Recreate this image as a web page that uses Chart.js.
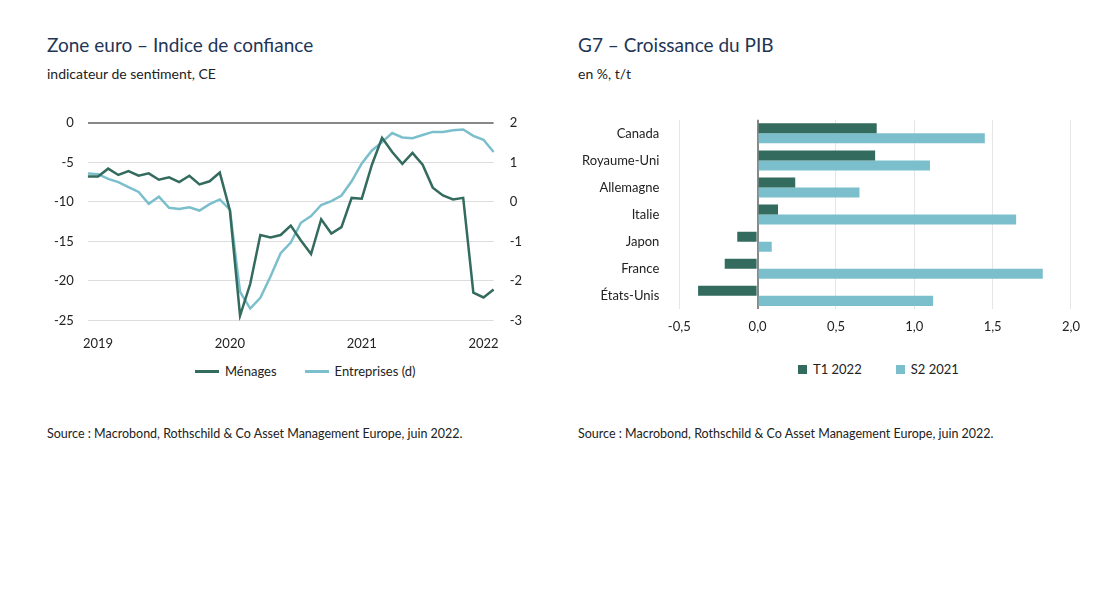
<!DOCTYPE html>
<html><head><meta charset="utf-8">
<script src="https://cdn.jsdelivr.net/npm/chart.js@4"></script>
<style>
body{margin:0;width:1100px;height:600px;background:#fff;font-family:Lato,"Noto Sans",sans-serif;position:relative;overflow:hidden}
.t{position:absolute;color:#1f3556;font-size:19px}
.s{position:absolute;color:#222;font-size:14px}
.src{position:absolute;color:#222;font-size:12.5px}
.lg{position:absolute;font-size:13px;color:#222;display:flex;gap:6px;align-items:center}
.sw{display:inline-block}
canvas{position:absolute}
</style></head><body>
<div class="t" style="left:47px;top:33px">Zone euro – Indice de confiance</div>
<div class="s" style="left:47px;top:65px">indicateur de sentiment, CE</div>
<div class="t" style="left:578px;top:33px">G7 – Croissance du PIB</div>
<div class="s" style="left:578px;top:65px">en %, t/t</div>
<div class="lg" style="left:195px;top:363px"><span class="sw" style="width:24px;height:3px;background:#336b5e"></span>Ménages<span style="width:16px"></span><span class="sw" style="width:24px;height:3px;background:#7bbfcc"></span>Entreprises (d)</div>
<div class="lg" style="left:798px;top:361px"><span class="sw" style="width:9px;height:9px;background:#336b5e"></span>T1 2022<span style="width:22px"></span><span class="sw" style="width:9px;height:9px;background:#7bbfcc"></span>S2 2021</div>
<div class="src" style="left:47px;top:426px">Source : Macrobond, Rothschild &amp; Co Asset Management Europe, juin 2022.</div>
<div class="src" style="left:578px;top:426px">Source : Macrobond, Rothschild &amp; Co Asset Management Europe, juin 2022.</div>
<canvas id="c1" style="left:40px;top:101px;width:490px;height:259px"></canvas>
<canvas id="c2" style="left:570px;top:100px;width:520px;height:245px"></canvas>
<script>
const menages=[-6.8,-6.8,-5.8,-6.6,-6.1,-6.7,-6.4,-7.2,-6.9,-7.5,-6.7,-7.8,-7.4,-6.3,-11.1,-24.4,-20.4,-14.2,-14.5,-14.2,-13.0,-14.9,-16.6,-12.2,-14.0,-13.2,-9.5,-9.6,-5.3,-1.9,-3.7,-5.2,-3.8,-5.3,-8.2,-9.2,-9.7,-9.5,-21.5,-22.1,-21.1];
const entreprises=[0.72,0.70,0.58,0.50,0.37,0.25,-0.05,0.13,-0.15,-0.18,-0.14,-0.22,-0.06,0.06,-0.20,-2.28,-2.70,-2.43,-1.89,-1.30,-1.03,-0.53,-0.36,-0.08,0.02,0.16,0.52,0.97,1.30,1.51,1.74,1.63,1.61,1.69,1.77,1.77,1.81,1.83,1.67,1.57,1.26];
const yearLabels={1:'2019',14:'2020',27:'2021',39:'2022'};
const months=menages.map((_,i)=>i);
const pays=['Canada','Royaume-Uni','Allemagne','Italie','Japon','France','États-Unis'];
const t1_2022=[0.76,0.75,0.24,0.13,-0.13,-0.21,-0.38];
const s2_2021=[1.45,1.10,0.65,1.65,0.09,1.82,1.12];
const DARK='#336b5e',LIGHT='#7bbfcc';
Chart.defaults.font.family='Lato, "Noto Sans", sans-serif';
Chart.defaults.font.size=13;
Chart.defaults.color='#222';
new Chart(document.getElementById('c1'),{type:'line',
data:{labels:months,datasets:[
{data:menages,borderColor:DARK,borderWidth:2.5,pointRadius:0,yAxisID:'y',tension:0},
{data:entreprises,borderColor:LIGHT,borderWidth:2.5,pointRadius:0,yAxisID:'y1',tension:0}]},
options:{responsive:false,animation:false,plugins:{legend:{display:false},tooltip:{enabled:false}},
layout:{padding:{left:0,right:0,top:4}},
scales:{
x:{grid:{display:false},border:{display:false},ticks:{autoSkip:false,maxRotation:0,padding:8,callback:(v)=>yearLabels[v]||''}},
y:{min:-25,max:0,ticks:{stepSize:5,padding:14},border:{display:false},grid:{color:c=>c.tick.value===0?'#888':'#ddd',lineWidth:c=>c.tick.value===0?2:1,drawTicks:false}},
y1:{position:'right',min:-3,max:2,ticks:{stepSize:1,padding:8},border:{display:false},grid:{display:false}}}}});
new Chart(document.getElementById('c2'),{type:'bar',
data:{labels:pays,datasets:[
{data:t1_2022,backgroundColor:DARK,barPercentage:1,categoryPercentage:0.74},
{data:s2_2021,backgroundColor:LIGHT,barPercentage:1,categoryPercentage:0.74}]},
options:{indexAxis:'y',responsive:false,animation:false,plugins:{legend:{display:false},tooltip:{enabled:false}},
layout:{padding:{right:18}},
scales:{
x:{min:-0.5,max:2,ticks:{stepSize:0.5,padding:10,callback:v=>v.toFixed(1).replace('.',',')},border:{display:false},grid:{color:c=>c.tick.value===0?'#888':'#e6e6e6',lineWidth:c=>c.tick.value===0?2:1,drawTicks:false}},
y:{grid:{display:false},border:{display:false},ticks:{padding:12}}}}});
</script></body></html>
